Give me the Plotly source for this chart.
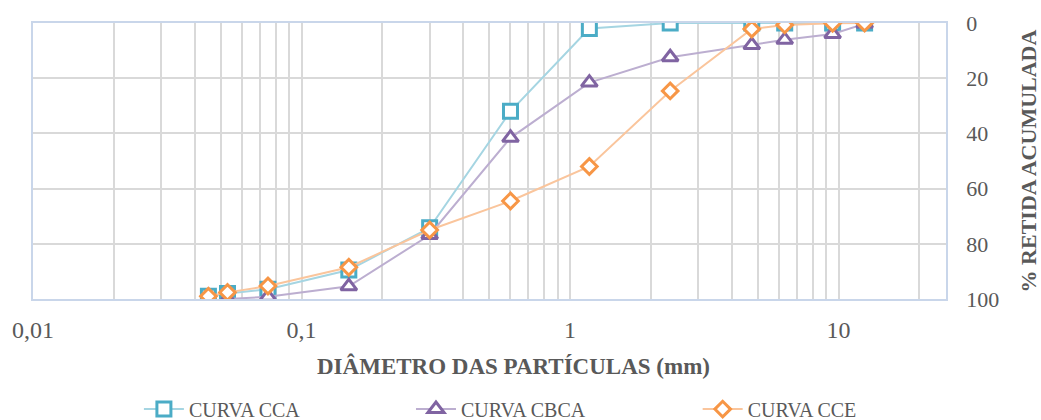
import plotly.graph_objects as go

# ---- data ----
diam_cca = [0.045, 0.053, 0.075, 0.15, 0.3, 0.6, 1.18, 2.36, 4.75, 6.3, 9.5, 12.5]
ret_cca = [99, 98, 96.5, 89.5, 74.2, 32, 2, 0, 0, 0, 0, 0]

diam_cbca = [0.053, 0.075, 0.15, 0.3, 0.6, 1.18, 2.36, 4.75, 6.3, 9.5, 12.5]
ret_cbca = [100, 99.2, 95.4, 76.8, 41.6, 21.6, 12.4, 8.0, 6.1, 4.0, 0.3]

diam_cce = [0.045, 0.053, 0.075, 0.15, 0.3, 0.6, 1.18, 2.36, 4.75, 6.3, 9.5, 12.5]
ret_cce = [99, 97.6, 95.3, 88.5, 75, 64.5, 52, 24.6, 2.2, 0.7, 0.1, 0]

series_names = ["CURVA CCA", "CURVA CBCA", "CURVA CCE"]
x_tickvals = [0.01, 0.1, 1, 10]
x_ticktext = ["0,01", "0,1", "1", "10"]
y_tickvals = [0, 20, 40, 60, 80, 100]
x_title = "DIÂMETRO DAS PARTÍCULAS (mm)"
y_title = "% RETIDA ACUMULADA"

# ---- style ----
FONT = "Liberation Serif"
TXT = "#595959"
GRID = "#D9D9D9"

styles = [
    dict(mc="#4BACC6", lc="#A5D5E2", sym="square", size=14),
    dict(mc="#8064A2", lc="#BCAED0", sym="triangle-up", size=14),
    dict(mc="#F79646", lc="#FAC59C", sym="diamond", size=12),
]

fig = go.Figure()
data = [(diam_cca, ret_cca), (diam_cbca, ret_cbca), (diam_cce, ret_cce)]
legends = ["legend", "legend2", "legend3"]
for (xs, ys), name, st, lg in zip(data, series_names, styles, legends):
    fig.add_trace(go.Scatter(
        x=xs, y=ys, name=name, mode="lines+markers",
        line=dict(color=st["lc"], width=2),
        marker=dict(symbol=st["sym"], size=st["size"], color="white",
                    line=dict(color=st["mc"], width=3)),
        legend=lg,
    ))

minor_vals = [m * 10 ** k for k in range(-2, 2) for m in range(2, 10)]

leg_common = dict(orientation="h", yref="container", yanchor="middle", y=0.026,
                  xanchor="left",
                  font=dict(family=FONT, size=20, color=TXT),
                  bgcolor="rgba(0,0,0,0)", itemwidth=40)

fig.update_layout(
    width=1041, height=420,
    margin=dict(l=33, r=95, t=23, b=121),
    paper_bgcolor="white", plot_bgcolor="white",
    showlegend=True,
    legend=dict(leg_common, x=0.116),
    legend2=dict(leg_common, x=0.414),
    legend3=dict(leg_common, x=0.728),
    xaxis=dict(
        type="log", range=[-2, 1.4], automargin=False,
        tickmode="array", tickvals=x_tickvals, ticktext=x_ticktext,
        showgrid=True, gridcolor=GRID, gridwidth=1.5,
        minor=dict(tickmode="array", tickvals=minor_vals, showgrid=True,
                   gridcolor=GRID, gridwidth=1.5, ticks=""),
        showline=True, linecolor="#C9D6EA", linewidth=1.5, mirror=True,
        ticks="", zeroline=False, ticklabelstandoff=8,
        tickfont=dict(family=FONT, size=24, color=TXT),
    ),
    yaxis=dict(
        side="right", range=[100, 0], automargin=False,
        tickmode="array", tickvals=y_tickvals,
        showgrid=True, gridcolor=GRID, gridwidth=1.5,
        showline=True, linecolor="#C9D6EA", linewidth=1.5, mirror=True,
        ticks="", zeroline=False, ticklabelstandoff=14,
        tickfont=dict(family=FONT, size=22, color=TXT),
        title=dict(text="<b>" + y_title + "</b>",
                   font=dict(family=FONT, size=22, color=TXT), standoff=27),
    ),
    annotations=[dict(
        text="<b>" + x_title + "</b>", xref="paper", yref="paper",
        x=0.526, y=-0.243, xanchor="center", yanchor="middle", showarrow=False,
        font=dict(family=FONT, size=23, color=TXT),
    )],
)

fig.write_html("out.html")
